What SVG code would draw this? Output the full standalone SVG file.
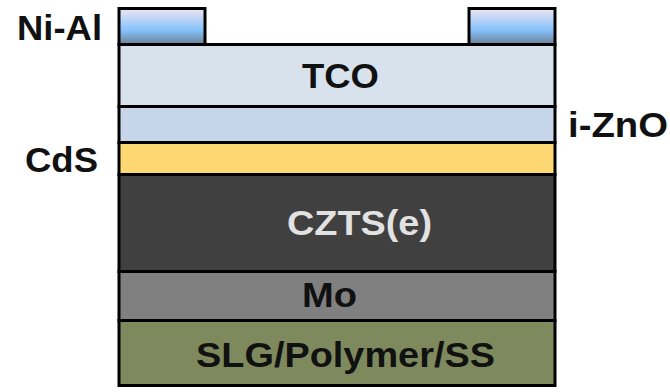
<svg xmlns="http://www.w3.org/2000/svg" width="670" height="392" viewBox="0 0 670 392">
  <style>
    .layer { stroke: #000; stroke-width: 3; }
    .lbl { font-family: "Liberation Sans", Arial, sans-serif; font-weight: bold; font-size: 35px; fill: #111; }
    .light { fill: #e2e2e2; }
  </style>
  <defs>
    <linearGradient id="metal" x1="0" y1="0" x2="0" y2="1">
      <stop offset="0" stop-color="#efe6f3"/>
      <stop offset="0.6" stop-color="#86c2fc"/>
      <stop offset="1" stop-color="#6c8094"/>
    </linearGradient>
  </defs>
  <rect width="670" height="392" fill="#fff"/>

  <!-- device stack, top to bottom -->
  <g id="contact-left"><rect class="layer" x="119" y="8.5" width="86" height="36" fill="url(#metal)"/></g>
  <g id="contact-right"><rect class="layer" x="469" y="8.5" width="86" height="36" fill="url(#metal)"/></g>
  <g id="tco">
    <rect class="layer" x="119" y="44.5" width="436" height="62" fill="#d8e2ed"/>
    <text class="lbl" x="302" y="88" textLength="77" lengthAdjust="spacingAndGlyphs">TCO</text>
  </g>
  <g id="izno"><rect class="layer" x="119" y="106.5" width="436" height="36" fill="#c6d5ea"/></g>
  <g id="cds"><rect class="layer" x="119" y="142.5" width="436" height="32" fill="#fdd872"/></g>
  <g id="czts">
    <rect class="layer" x="119" y="174.5" width="436" height="97" fill="#404040"/>
    <text class="lbl light" x="287" y="235" textLength="145" lengthAdjust="spacingAndGlyphs">CZTS(e)</text>
  </g>
  <g id="mo">
    <rect class="layer" x="119" y="271.5" width="436" height="49" fill="#808080"/>
    <text class="lbl" x="302" y="307" textLength="55" lengthAdjust="spacingAndGlyphs">Mo</text>
  </g>
  <g id="substrate">
    <rect class="layer" x="119" y="320.5" width="436" height="65" fill="#7e8a5e"/>
    <text class="lbl" x="196" y="367" textLength="299" lengthAdjust="spacingAndGlyphs">SLG/Polymer/SS</text>
  </g>

  <!-- side labels -->
  <g id="labels">
    <text class="lbl" x="17" y="40" textLength="85" lengthAdjust="spacingAndGlyphs">Ni-Al</text>
    <text class="lbl" x="568" y="137" textLength="100" lengthAdjust="spacingAndGlyphs">i-ZnO</text>
    <text class="lbl" x="25" y="172" textLength="73" lengthAdjust="spacingAndGlyphs">CdS</text>
  </g>
</svg>
